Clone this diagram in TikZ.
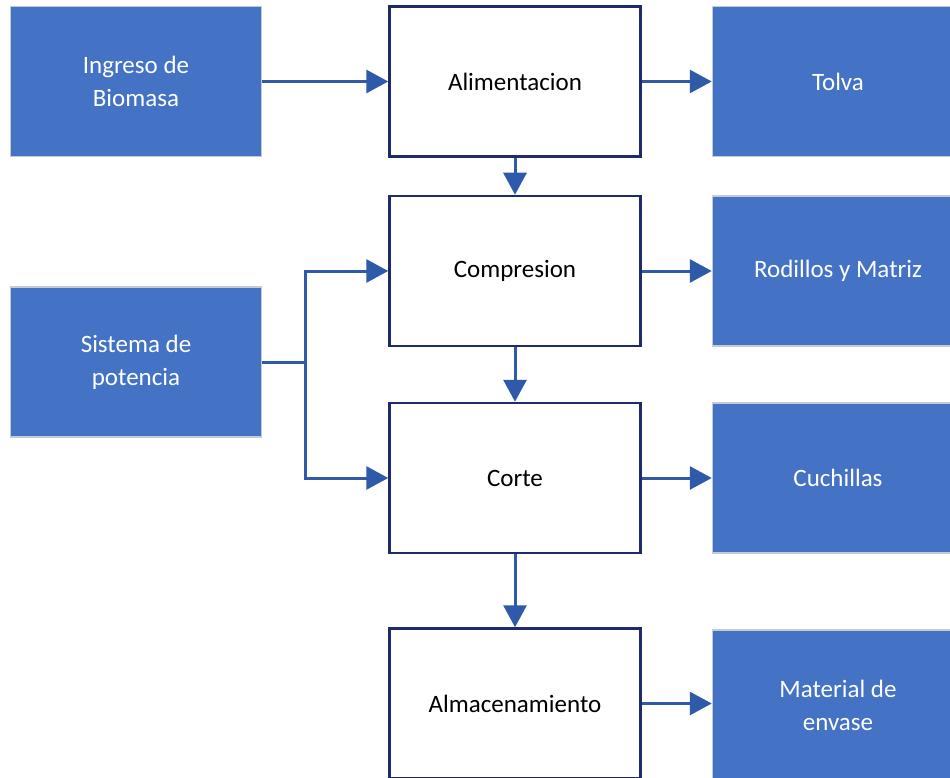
\documentclass[tikz,border=0pt]{standalone}
\usepackage{fontspec}
\setmainfont{Carlito}
\usetikzlibrary{arrows.meta}
\definecolor{boxblue}{HTML}{4472C4}
\definecolor{boxedge}{HTML}{C5CBD5}
\definecolor{navyedge}{HTML}{1F2A6B}
\definecolor{arrowblue}{HTML}{2F5AAA}
\begin{document}
\begin{tikzpicture}[x=1pt,y=-1pt,
  basebox/.style={rectangle, inner sep=0pt, align=center,
    font=\fontsize{25}{33}\selectfont},
  bluebox/.style={basebox, fill=boxblue, draw=boxedge, line width=1.5pt,
    text=white, minimum width=251pt, minimum height=150pt},
  stagebox/.style={basebox, fill=white, draw=navyedge, line width=2.5pt,
    text=black, minimum width=251pt, minimum height=150pt},
  arr/.style={draw=arrowblue, line width=3pt,
    -{Triangle[length=22pt,width=23pt]}},
  link/.style={draw=arrowblue, line width=3pt}
]
\clip (0,0) rectangle (950,778);
\fill[white] (0,0) rectangle (950,778);

% left column
\node[bluebox] (ing) at (136,81.5) {Ingreso de\\Biomasa};
\node[bluebox] (sis) at (136,362) {Sistema de\\potencia};

% middle column
\node[stagebox] (alim) at (515,81.5) {Alimentacion};
\node[stagebox] (comp) at (515,271) {Compresion};
\node[stagebox] (corte) at (515,478) {Corte};
\node[stagebox] (alm) at (515,703.5) {Almacenamiento};

% right column
\node[bluebox] (tol) at (838,81.5) {Tolva};
\node[bluebox] (rod) at (838,271) {Rodillos y Matriz};
\node[bluebox] (cuc) at (838,478) {Cuchillas};
\node[bluebox] (mat) at (838,705) {Material de\\envase};

% horizontal arrows
\draw[arr] (ing.east) -- (alim.west);
\draw[arr] (alim.east) -- (tol.west);
\draw[arr] (comp.east) -- (rod.west);
\draw[arr] (corte.east) -- (cuc.west);
\draw[arr] (alm.east) -- (alm.east -| mat.west);

% vertical arrows
\draw[arr] (alim.south) -- (comp.north);
\draw[arr] (comp.south) -- (corte.north);
\draw[arr] (corte.south) -- (alm.north);

% power branch
\coordinate (br) at (305,362);
\draw[link] (sis.east) -- (br);
\draw[arr] (br) |- (comp.west);
\draw[arr] (br) |- (corte.west);
\end{tikzpicture}
\end{document}
